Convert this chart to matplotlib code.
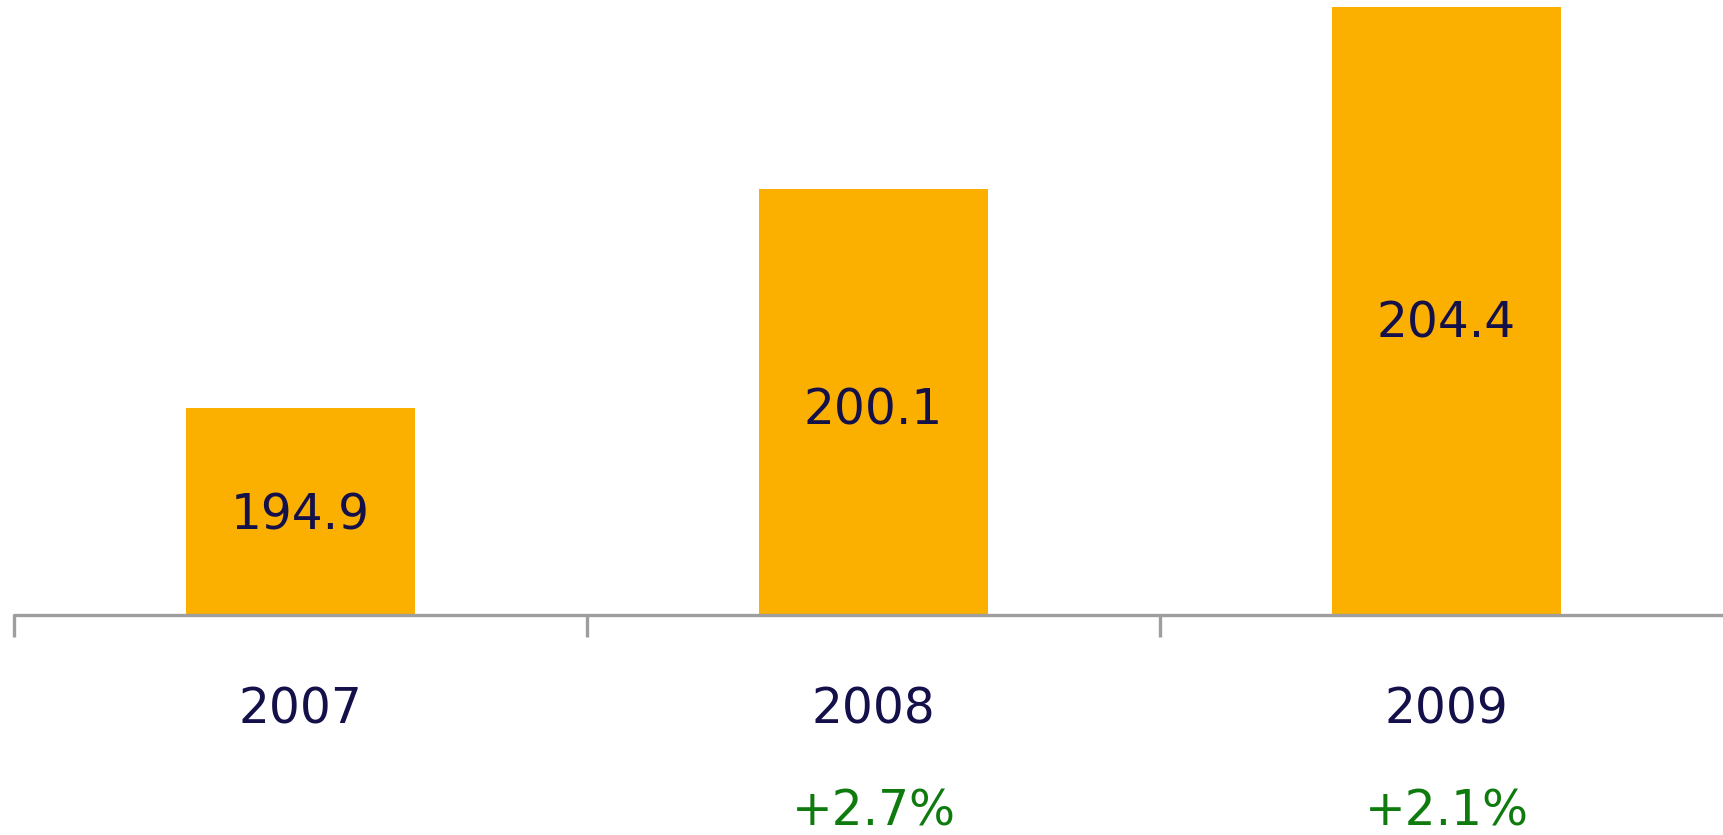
import matplotlib
matplotlib.use('Agg')
from matplotlib import pyplot as plt
from matplotlib import transforms

years = ['2007', '2008', '2009']
values = [194.9, 200.1, 204.4]
growth = ['', '+2.7%', '+2.1%']

BAR_C = '#FBB000'
TXT_C = '#14104A'
GRN_C = '#0F7B0F'
AXIS_C = '#9E9E9E'
FS = 35

W, H = 1724, 835
fig = plt.figure(figsize=(W/100.0, H/100.0), dpi=100)
# axes from the baseline (y=615px) up to the top edge, starting at x=14px
ax = fig.add_axes([14.0/W, (H-615.0)/H, 1-14.0/W, 615.0/H])

base = 190.0
top = base + 615.0/42.2
xs = list(range(len(years)))

ax.bar(xs, [v - base for v in values], bottom=base, width=0.40,
       color=BAR_C, edgecolor='none', zorder=1)

for x, v in zip(xs, values):
    ax.text(x, base + (v - base)*0.48, '%.1f' % v, ha='center', va='center',
            fontsize=FS, color=TXT_C)

# category labels below the axis
trans = transforms.blended_transform_factory(ax.transData, fig.transFigure)
for x, yr, g in zip(xs, years, growth):
    ax.text(x, (H-710.0)/H, yr, transform=trans, ha='center', va='center',
            fontsize=FS, color=TXT_C)
    if g:
        ax.text(x, (H-811.0)/H, g, transform=trans, ha='center', va='center',
                fontsize=FS, color=GRN_C)

ax.set_xlim(-0.5, -0.5 + (W-14.0)/573.0)
ax.set_ylim(base, top)

for s in ['top', 'right', 'left']:
    ax.spines[s].set_visible(False)
ax.spines['bottom'].set_color(AXIS_C)
ax.spines['bottom'].set_linewidth(2.4)
ax.spines['bottom'].set_capstyle('round')
ax.spines['bottom'].set_zorder(3)

ax.set_yticks([])
ax.set_xticks([-0.5, 0.5, 1.5])
ax.set_xticklabels([])
ax.tick_params(axis='x', direction='out', length=16, width=2.4, color=AXIS_C)

fig.savefig('out.png', dpi=100)
